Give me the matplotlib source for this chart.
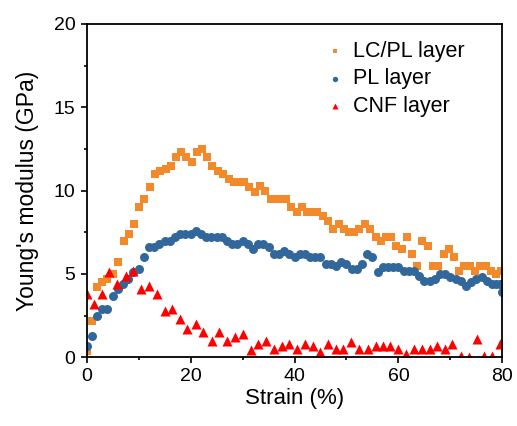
import matplotlib
matplotlib.use('Agg')
import matplotlib.pyplot as plt
from matplotlib.ticker import MultipleLocator

plt.rcParams['font.family'] = ['Liberation Sans', 'DejaVu Sans']

# LC/PL layer
strain_lc = [0, 1.0, 2.0, 3.0, 4.0, 5.1, 6.1, 7.1, 8.1, 9.1, 10.1, 11.1, 12.1, 13.1, 14.1,
             15.2, 16.2, 17.2, 18.2, 19.2, 20.2, 21.2, 22.2, 23.2, 24.2, 25.3, 26.3, 27.3,
             28.3, 29.3, 30.3, 31.3, 32.3, 33.3, 34.3, 35.4, 36.4, 37.4, 38.4, 39.4, 40.4,
             41.4, 42.4, 43.4, 44.4, 45.5, 46.5, 47.5, 48.5, 49.5, 50.5, 51.5, 52.5, 53.5,
             54.5, 55.6, 56.6, 57.6, 58.6, 59.6, 60.6, 61.6, 62.6, 63.6, 64.6, 65.7, 66.7,
             67.7, 68.7, 69.7, 70.7, 71.7, 72.7, 73.7, 74.7, 75.8, 76.8, 77.8, 78.8, 79.8]
mod_lc = [0.4, 2.2, 4.2, 4.5, 4.7, 5.0, 5.7, 7.0, 7.4, 8.0, 9.0, 9.5, 10.2, 11.0, 11.2,
          11.3, 11.5, 12.0, 12.3, 12.0, 11.7, 12.3, 12.5, 12.0, 11.5, 11.2, 11.0, 10.7,
          10.5, 10.5, 10.5, 10.2, 9.9, 10.3, 10.0, 9.5, 9.5, 9.5, 9.5, 9.0, 8.7, 9.0, 8.7,
          8.7, 8.7, 8.5, 8.2, 7.7, 8.0, 7.7, 7.5, 7.5, 7.7, 8.0, 7.7, 7.2, 7.0, 7.2, 7.2,
          6.7, 6.5, 7.2, 6.2, 5.5, 7.0, 6.7, 5.5, 5.5, 6.2, 6.5, 6.0, 5.2, 5.5, 5.5, 5.2,
          5.5, 5.5, 5.2, 5.0, 5.2]

# PL layer
strain_pl = [0, 1, 2, 3, 4, 5, 6, 7, 8, 9, 10, 11, 12, 13, 14, 15, 16, 17, 18, 19, 20,
             21, 22, 23, 24, 25, 26, 27, 28, 29, 30, 31, 32, 33, 34, 35, 36, 37, 38, 39, 40,
             41, 42, 43, 44, 45, 46, 47, 48, 49, 50, 51, 52, 53, 54, 55, 56, 57, 58, 59, 60,
             61, 62, 63, 64, 65, 66, 67, 68, 69, 70, 71, 72, 73, 74, 75, 76, 77, 78, 78.8,
             79.5, 80]
mod_pl = [0.7, 1.3, 2.5, 2.9, 2.9, 3.7, 4.1, 4.4, 4.7, 5.1, 5.3, 6.0, 6.6, 6.6, 6.8, 7.0,
          7.0, 7.2, 7.4, 7.4, 7.4, 7.6, 7.4, 7.2, 7.2, 7.2, 7.2, 7.0, 6.8, 6.8, 7.0, 6.8,
          6.5, 6.8, 6.8, 6.6, 6.2, 6.2, 6.4, 6.2, 6.0, 6.2, 6.2, 6.0, 6.0, 6.0, 5.6, 5.6,
          5.5, 5.7, 5.6, 5.3, 5.3, 5.6, 6.2, 6.0, 5.1, 5.4, 5.4, 5.4, 5.4, 5.2, 5.2, 5.2,
          4.9, 4.6, 4.6, 4.7, 5.0, 5.0, 4.8, 4.7, 4.6, 4.3, 4.5, 4.7, 4.8, 4.6, 4.4, 4.4,
          4.4, 3.9]

# CNF layer
strain_cnf = [0.1, 1.4, 2.9, 4.3, 5.9, 7.5, 9.0, 10.4, 12.0, 13.5, 15.0, 16.5, 18.0, 19.4,
              21.0, 22.4, 24.1, 25.5, 27.0, 28.5, 30.0, 31.6, 33.0, 34.5, 36.0, 37.5, 39.0,
              40.5, 42.0, 43.5, 45.0, 46.5, 48.0, 49.4, 50.9, 52.5, 54.1, 55.6, 57.0, 58.4,
              60.0, 61.5, 63.0, 64.5, 66.0, 67.5, 69.0, 70.4, 72.0, 73.5, 75.1, 76.5, 78.0,
              79.5]
mod_cnf = [3.8, 3.2, 3.8, 5.1, 4.4, 4.9, 5.2, 4.1, 4.3, 3.8, 2.8, 2.9, 2.3, 1.7, 2.0, 1.5,
           1.0, 1.5, 1.0, 1.2, 1.4, 0.45, 0.8, 1.0, 0.5, 0.7, 0.8, 0.5, 0.8, 0.7, 0.3, 0.8,
           0.5, 0.5, 0.9, 0.5, 0.5, 0.7, 0.7, 0.7, 0.5, 0.2, 0.5, 0.5, 0.5, 0.7, 0.5, 0.8,
           0.1, 0.0, 1.1, 0.1, 0.1, 0.8]

fig = plt.figure(figsize=(5.17, 4.26), dpi=100)
ax = fig.add_axes([0.1677, 0.1613, 0.8039, 0.7824])

ax.scatter(strain_lc, mod_lc, marker='s', s=30, color='#F28A2C', linewidths=0,
           label='LC/PL layer')
ax.scatter(strain_pl, mod_pl, marker='o', s=42, color='#31679A', linewidths=0,
           label='PL layer')
ax.scatter(strain_cnf, mod_cnf, marker='^', s=52, color='#FF0000', linewidths=0,
           label='CNF layer')

ax.set_xlim(0, 80)
ax.set_ylim(0, 20)
ax.xaxis.set_major_locator(MultipleLocator(20))
ax.xaxis.set_minor_locator(MultipleLocator(10))
ax.yaxis.set_major_locator(MultipleLocator(5))
ax.yaxis.set_minor_locator(MultipleLocator(2.5))
ax.tick_params(which='both', direction='out', top=False, right=False, width=1.2,
               labelsize=14)
ax.tick_params(which='major', length=4.5)
ax.tick_params(which='minor', length=2.5)
for sp in ax.spines.values():
    sp.set_linewidth(1.3)

ax.set_xlabel('Strain (%)', fontsize=16, labelpad=2)
ax.set_ylabel("Young's modulus (GPa)", fontsize=16.5, labelpad=11)

ax.legend(loc='upper left', bbox_to_anchor=(0.55, 0.975), frameon=False,
          fontsize=15.5, markerscale=0.6, handlelength=1.0, handletextpad=0.35,
          labelspacing=0.3, borderaxespad=0)

fig.savefig('out.png', dpi=100)
